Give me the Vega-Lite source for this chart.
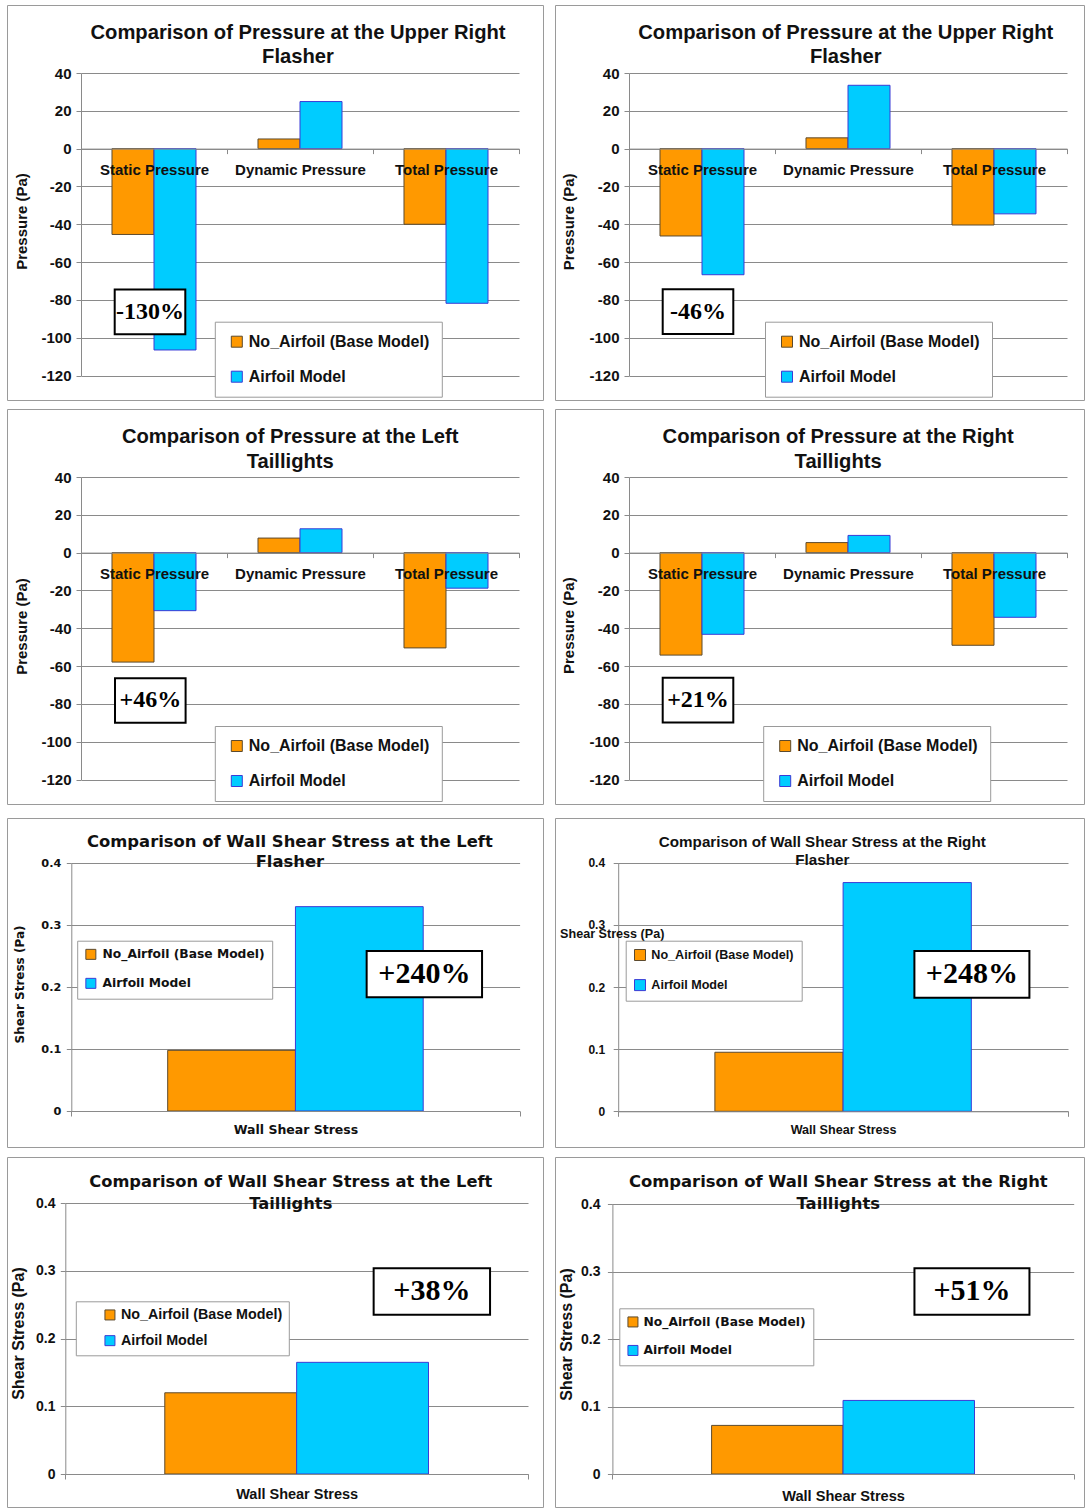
{
  "$schema": "https://vega.github.io/schema/vega-lite/v6.json",
  "padding": {"left": 6, "top": 4, "right": 0, "bottom": 0},
  "background": "white",
  "config": {
    "view": {"stroke": "#9a9a9a", "strokeWidth": 1, "fill": "white"},
    "axis": {"domainColor": "#8a8a8a", "tickColor": "#8a8a8a", "gridColor": "#8a8a8a", "labelColor": "#111111", "titleColor": "#111111", "labelFont": "Liberation Sans", "titleFont": "Liberation Sans", "labelFontWeight": "bold", "titleFontWeight": "bold", "tickSize": 5, "labelOverlap": false, "labelLimit": 400},
    "axisX": {"grid": false, "domain": true, "ticks": true, "labelAngle": 0, "tickBand": "extent"},
    "axisY": {"grid": true, "domain": true, "ticks": true},
    "legend": {"title": null, "orient": "none", "direction": "vertical", "symbolType": "square", "fillColor": "white", "strokeColor": "#9a9a9a", "symbolStrokeWidth": 1, "labelColor": "#111111", "labelFontWeight": "bold", "labelLimit": 400},
    "title": {"color": "#111111", "fontWeight": "bold", "anchor": "middle", "frame": "group", "baseline": "bottom"}
  },
  "datasets": {
    "upperFlasherA": [
      {"quantity": "Static Pressure", "model": "No_Airfoil (Base Model)", "pressure": -45.4},
      {"quantity": "Static Pressure", "model": "Airfoil Model", "pressure": -106.5},
      {"quantity": "Dynamic Pressure", "model": "No_Airfoil (Base Model)", "pressure": 5.1},
      {"quantity": "Dynamic Pressure", "model": "Airfoil Model", "pressure": 24.9},
      {"quantity": "Total Pressure", "model": "No_Airfoil (Base Model)", "pressure": -40.0},
      {"quantity": "Total Pressure", "model": "Airfoil Model", "pressure": -81.8}
    ],
    "upperFlasherB": [
      {"quantity": "Static Pressure", "model": "No_Airfoil (Base Model)", "pressure": -46.2},
      {"quantity": "Static Pressure", "model": "Airfoil Model", "pressure": -66.7},
      {"quantity": "Dynamic Pressure", "model": "No_Airfoil (Base Model)", "pressure": 5.7},
      {"quantity": "Dynamic Pressure", "model": "Airfoil Model", "pressure": 33.5},
      {"quantity": "Total Pressure", "model": "No_Airfoil (Base Model)", "pressure": -40.4},
      {"quantity": "Total Pressure", "model": "Airfoil Model", "pressure": -34.5}
    ],
    "leftTaillights": [
      {"quantity": "Static Pressure", "model": "No_Airfoil (Base Model)", "pressure": -57.9},
      {"quantity": "Static Pressure", "model": "Airfoil Model", "pressure": -30.7},
      {"quantity": "Dynamic Pressure", "model": "No_Airfoil (Base Model)", "pressure": 7.7},
      {"quantity": "Dynamic Pressure", "model": "Airfoil Model", "pressure": 12.6},
      {"quantity": "Total Pressure", "model": "No_Airfoil (Base Model)", "pressure": -50.4},
      {"quantity": "Total Pressure", "model": "Airfoil Model", "pressure": -18.8}
    ],
    "rightTaillights": [
      {"quantity": "Static Pressure", "model": "No_Airfoil (Base Model)", "pressure": -54.2},
      {"quantity": "Static Pressure", "model": "Airfoil Model", "pressure": -43.2},
      {"quantity": "Dynamic Pressure", "model": "No_Airfoil (Base Model)", "pressure": 5.3},
      {"quantity": "Dynamic Pressure", "model": "Airfoil Model", "pressure": 9.1},
      {"quantity": "Total Pressure", "model": "No_Airfoil (Base Model)", "pressure": -49.0},
      {"quantity": "Total Pressure", "model": "Airfoil Model", "pressure": -34.2}
    ],
    "shearLeftFlasher": [
      {"quantity": "Wall Shear Stress", "model": "No_Airfoil (Base Model)", "stress": 0.098},
      {"quantity": "Wall Shear Stress", "model": "Airfoil Model", "stress": 0.330}
    ],
    "shearRightFlasher": [
      {"quantity": "Wall Shear Stress", "model": "No_Airfoil (Base Model)", "stress": 0.095},
      {"quantity": "Wall Shear Stress", "model": "Airfoil Model", "stress": 0.368}
    ],
    "shearLeftTaillights": [
      {"quantity": "Wall Shear Stress", "model": "No_Airfoil (Base Model)", "stress": 0.120},
      {"quantity": "Wall Shear Stress", "model": "Airfoil Model", "stress": 0.165}
    ],
    "shearRightTaillights": [
      {"quantity": "Wall Shear Stress", "model": "No_Airfoil (Base Model)", "stress": 0.072},
      {"quantity": "Wall Shear Stress", "model": "Airfoil Model", "stress": 0.109}
    ]
  },
  "spacing": 12,
  "resolve": {"scale": {"xOffset": "independent", "fill": "independent", "stroke": "independent"}, "legend": {"fill": "independent", "stroke": "independent"}},
  "vconcat": [
    {
      "spacing": 7,
      "resolve": {"scale": {"xOffset": "independent", "fill": "independent", "stroke": "independent"}, "legend": {"fill": "independent", "stroke": "independent"}},
      "vconcat": [
        {
          "spacing": 10,
          "resolve": {"scale": {"xOffset": "independent", "fill": "independent", "stroke": "independent"}, "legend": {"fill": "independent", "stroke": "independent"}},
          "hconcat": [
            {
              "width": 536, "height": 395,
              "title": {"text": ["Comparison of Pressure at the Upper Right", "Flasher"], "font": "Liberation Sans", "fontSize": 20.2, "lineHeight": 24.4, "offset": -62.5, "dx": 23},
              "layer": [
                {
                  "data": {"name": "upperFlasherA"},
                  "mark": {"type": "bar", "strokeWidth": 1},
                  "encoding": {
                    "x": {"field": "quantity", "type": "nominal", "scale": {"domain": ["Static Pressure", "Dynamic Pressure", "Total Pressure"], "range": [74, 512], "paddingInner": 0, "paddingOuter": 0}, "axis": {"title": null, "offset": -251.4, "labelFontSize": 15, "labelPadding": 9, "zindex": 1}},
                    "xOffset": {"field": "model", "type": "nominal", "scale": {"domain": ["No_Airfoil (Base Model)", "Airfoil Model"], "range": [0, 146], "paddingInner": 0, "paddingOuter": 0.738}},
                    "y": {"field": "pressure", "type": "quantitative", "stack": null, "scale": {"domain": [-120, 40], "range": [370.5, 68], "nice": false, "zero": false}, "axis": {"values": [-120, -100, -80, -60, -40, -20, 0, 20, 40], "labelExpr": "datum.value + ''", "offset": -74, "labelFontSize": 15, "labelPadding": 5, "title": "Pressure (Pa)", "titleFontSize": 15, "titleAngle": -90, "titleAlign": "center", "titleBaseline": "middle", "titleX": -60, "titleY": 216}},
                    "fill": {"field": "model", "type": "nominal", "scale": {"domain": ["No_Airfoil (Base Model)", "Airfoil Model"], "range": ["#FF9900", "#00CCFF"]}, "legend": {"legendX": 207.8, "legendY": 316.7, "padding": 12, "rowPadding": 19, "labelFont": "Liberation Sans", "labelFontSize": 16, "symbolSize": 121, "symbolOffset": 2, "labelOffset": 4}},
                    "stroke": {"field": "model", "type": "nominal", "scale": {"domain": ["No_Airfoil (Base Model)", "Airfoil Model"], "range": ["#5c4a2e", "#3b3bd6"]}}
                  }
                },
                {
                  "data": {"values": [{"quantity": "Static Pressure", "note": "-130%"}]},
                  "encoding": {"x": {"field": "quantity", "type": "nominal"}, "y": {"datum": -86.3, "type": "quantitative"}},
                  "layer": [
                    {"mark": {"type": "point", "shape": "M-1,-0.633H1V0.633H-1Z", "size": 4984, "filled": true, "fill": "white", "stroke": "black", "strokeWidth": 2, "opacity": 1, "xOffset": -4}},
                    {"mark": {"type": "text", "font": "Liberation Serif", "fontWeight": "bold", "fontSize": 24, "color": "black", "align": "center", "baseline": "middle", "xOffset": -4}, "encoding": {"text": {"field": "note"}}}
                  ]
                }
              ]
            },
            {
              "width": 529, "height": 395,
              "title": {"text": ["Comparison of Pressure at the Upper Right", "Flasher"], "font": "Liberation Sans", "fontSize": 20.2, "lineHeight": 24.4, "offset": -62.5, "dx": 26.3},
              "layer": [
                {
                  "data": {"name": "upperFlasherB"},
                  "mark": {"type": "bar", "strokeWidth": 1},
                  "encoding": {
                    "x": {"field": "quantity", "type": "nominal", "scale": {"domain": ["Static Pressure", "Dynamic Pressure", "Total Pressure"], "range": [74, 512], "paddingInner": 0, "paddingOuter": 0}, "axis": {"title": null, "offset": -251.4, "labelFontSize": 15, "labelPadding": 9, "zindex": 1}},
                    "xOffset": {"field": "model", "type": "nominal", "scale": {"domain": ["No_Airfoil (Base Model)", "Airfoil Model"], "range": [0, 146], "paddingInner": 0, "paddingOuter": 0.738}},
                    "y": {"field": "pressure", "type": "quantitative", "stack": null, "scale": {"domain": [-120, 40], "range": [370.5, 68], "nice": false, "zero": false}, "axis": {"values": [-120, -100, -80, -60, -40, -20, 0, 20, 40], "labelExpr": "datum.value + ''", "offset": -74, "labelFontSize": 15, "labelPadding": 5, "title": "Pressure (Pa)", "titleFontSize": 15, "titleAngle": -90, "titleAlign": "center", "titleBaseline": "middle", "titleX": -60.2, "titleY": 216.3}},
                    "fill": {"field": "model", "type": "nominal", "scale": {"domain": ["No_Airfoil (Base Model)", "Airfoil Model"], "range": ["#FF9900", "#00CCFF"]}, "legend": {"legendX": 210, "legendY": 316.7, "padding": 12, "rowPadding": 19, "labelFont": "Liberation Sans", "labelFontSize": 16, "symbolSize": 121, "symbolOffset": 2, "labelOffset": 4}},
                    "stroke": {"field": "model", "type": "nominal", "scale": {"domain": ["No_Airfoil (Base Model)", "Airfoil Model"], "range": ["#5c4a2e", "#3b3bd6"]}}
                  }
                },
                {
                  "data": {"values": [{"quantity": "Static Pressure", "note": "-46%"}]},
                  "encoding": {"x": {"field": "quantity", "type": "nominal"}, "y": {"datum": -86.2, "type": "quantitative"}},
                  "layer": [
                    {"mark": {"type": "point", "shape": "M-1,-0.633H1V0.633H-1Z", "size": 4984, "filled": true, "fill": "white", "stroke": "black", "strokeWidth": 2, "opacity": 1, "xOffset": -4}},
                    {"mark": {"type": "text", "font": "Liberation Serif", "fontWeight": "bold", "fontSize": 24, "color": "black", "align": "center", "baseline": "middle", "xOffset": -4}, "encoding": {"text": {"field": "note"}}}
                  ]
                }
              ]
            }
          ]
        },
        {
          "spacing": 10,
          "resolve": {"scale": {"xOffset": "independent", "fill": "independent", "stroke": "independent"}, "legend": {"fill": "independent", "stroke": "independent"}},
          "hconcat": [
            {
              "width": 536, "height": 395,
              "title": {"text": ["Comparison of Pressure at the Left", "Taillights"], "font": "Liberation Sans", "fontSize": 20.2, "lineHeight": 24.4, "offset": -62.8, "dx": 15.2},
              "layer": [
                {
                  "data": {"name": "leftTaillights"},
                  "mark": {"type": "bar", "strokeWidth": 1},
                  "encoding": {
                    "x": {"field": "quantity", "type": "nominal", "scale": {"domain": ["Static Pressure", "Dynamic Pressure", "Total Pressure"], "range": [74, 512], "paddingInner": 0, "paddingOuter": 0}, "axis": {"title": null, "offset": -251.4, "labelFontSize": 15, "labelPadding": 9, "zindex": 1}},
                    "xOffset": {"field": "model", "type": "nominal", "scale": {"domain": ["No_Airfoil (Base Model)", "Airfoil Model"], "range": [0, 146], "paddingInner": 0, "paddingOuter": 0.738}},
                    "y": {"field": "pressure", "type": "quantitative", "stack": null, "scale": {"domain": [-120, 40], "range": [370.5, 68], "nice": false, "zero": false}, "axis": {"values": [-120, -100, -80, -60, -40, -20, 0, 20, 40], "labelExpr": "datum.value + ''", "offset": -74, "labelFontSize": 15, "labelPadding": 5, "title": "Pressure (Pa)", "titleFontSize": 15, "titleAngle": -90, "titleAlign": "center", "titleBaseline": "middle", "titleX": -60, "titleY": 217}},
                    "fill": {"field": "model", "type": "nominal", "scale": {"domain": ["No_Airfoil (Base Model)", "Airfoil Model"], "range": ["#FF9900", "#00CCFF"]}, "legend": {"legendX": 207.8, "legendY": 317, "padding": 12, "rowPadding": 19, "labelFont": "Liberation Sans", "labelFontSize": 16, "symbolSize": 121, "symbolOffset": 2, "labelOffset": 4}},
                    "stroke": {"field": "model", "type": "nominal", "scale": {"domain": ["No_Airfoil (Base Model)", "Airfoil Model"], "range": ["#5c4a2e", "#3b3bd6"]}}
                  }
                },
                {
                  "data": {"values": [{"quantity": "Static Pressure", "note": "+46%"}]},
                  "encoding": {"x": {"field": "quantity", "type": "nominal"}, "y": {"datum": -78.2, "type": "quantitative"}},
                  "layer": [
                    {"mark": {"type": "point", "shape": "M-1,-0.633H1V0.633H-1Z", "size": 4984, "filled": true, "fill": "white", "stroke": "black", "strokeWidth": 2, "opacity": 1, "xOffset": -3.7}},
                    {"mark": {"type": "text", "font": "Liberation Serif", "fontWeight": "bold", "fontSize": 24, "color": "black", "align": "center", "baseline": "middle", "xOffset": -3.7}, "encoding": {"text": {"field": "note"}}}
                  ]
                }
              ]
            },
            {
              "width": 529, "height": 395,
              "title": {"text": ["Comparison of Pressure at the Right", "Taillights"], "font": "Liberation Sans", "fontSize": 20.2, "lineHeight": 24.4, "offset": -62.8, "dx": 18.6},
              "layer": [
                {
                  "data": {"name": "rightTaillights"},
                  "mark": {"type": "bar", "strokeWidth": 1},
                  "encoding": {
                    "x": {"field": "quantity", "type": "nominal", "scale": {"domain": ["Static Pressure", "Dynamic Pressure", "Total Pressure"], "range": [74, 512], "paddingInner": 0, "paddingOuter": 0}, "axis": {"title": null, "offset": -251.4, "labelFontSize": 15, "labelPadding": 9, "zindex": 1}},
                    "xOffset": {"field": "model", "type": "nominal", "scale": {"domain": ["No_Airfoil (Base Model)", "Airfoil Model"], "range": [0, 146], "paddingInner": 0, "paddingOuter": 0.738}},
                    "y": {"field": "pressure", "type": "quantitative", "stack": null, "scale": {"domain": [-120, 40], "range": [370.5, 68], "nice": false, "zero": false}, "axis": {"values": [-120, -100, -80, -60, -40, -20, 0, 20, 40], "labelExpr": "datum.value + ''", "offset": -74, "labelFontSize": 15, "labelPadding": 5, "title": "Pressure (Pa)", "titleFontSize": 15, "titleAngle": -90, "titleAlign": "center", "titleBaseline": "middle", "titleX": -60.2, "titleY": 216.2}},
                    "fill": {"field": "model", "type": "nominal", "scale": {"domain": ["No_Airfoil (Base Model)", "Airfoil Model"], "range": ["#FF9900", "#00CCFF"]}, "legend": {"legendX": 208.2, "legendY": 317, "padding": 12, "rowPadding": 19, "labelFont": "Liberation Sans", "labelFontSize": 16, "symbolSize": 121, "symbolOffset": 2, "labelOffset": 4}},
                    "stroke": {"field": "model", "type": "nominal", "scale": {"domain": ["No_Airfoil (Base Model)", "Airfoil Model"], "range": ["#5c4a2e", "#3b3bd6"]}}
                  }
                },
                {
                  "data": {"values": [{"quantity": "Static Pressure", "note": "+21%"}]},
                  "encoding": {"x": {"field": "quantity", "type": "nominal"}, "y": {"datum": -78, "type": "quantitative"}},
                  "layer": [
                    {"mark": {"type": "point", "shape": "M-1,-0.633H1V0.633H-1Z", "size": 4984, "filled": true, "fill": "white", "stroke": "black", "strokeWidth": 2, "opacity": 1, "xOffset": -4}},
                    {"mark": {"type": "text", "font": "Liberation Serif", "fontWeight": "bold", "fontSize": 24, "color": "black", "align": "center", "baseline": "middle", "xOffset": -4}, "encoding": {"text": {"field": "note"}}}
                  ]
                }
              ]
            }
          ]
        }
      ]
    },
    {
      "spacing": 8,
      "resolve": {"scale": {"xOffset": "independent", "fill": "independent", "stroke": "independent"}, "legend": {"fill": "independent", "stroke": "independent"}},
      "vconcat": [
        {
          "spacing": 10,
          "resolve": {"scale": {"xOffset": "independent", "fill": "independent", "stroke": "independent"}, "legend": {"fill": "independent", "stroke": "independent"}},
          "hconcat": [
            {
              "width": 536, "height": 329,
              "title": {"text": ["Comparison of Wall Shear Stress at the Left", "Flasher"], "font": "DejaVu Sans", "fontSize": 16.4, "lineHeight": 20.7, "offset": -52.8, "dx": 14.9},
              "layer": [
                {
                  "data": {"name": "shearLeftFlasher"},
                  "mark": {"type": "bar", "strokeWidth": 1},
                  "encoding": {
                    "x": {"field": "quantity", "type": "nominal", "scale": {"domain": ["Wall Shear Stress"], "range": [64.3, 512.6], "paddingInner": 0, "paddingOuter": 0}, "axis": {"title": null, "offset": -36, "labelFont": "DejaVu Sans", "labelFontSize": 12.5, "labelPadding": 7, "zindex": 1}},
                    "xOffset": {"field": "model", "type": "nominal", "scale": {"domain": ["No_Airfoil (Base Model)", "Airfoil Model"], "range": [0, 448.3], "paddingInner": 0, "paddingOuter": 0.7546}},
                    "y": {"field": "stress", "type": "quantitative", "stack": null, "scale": {"domain": [0, 0.4], "range": [293, 45.3], "nice": false}, "axis": {"values": [0, 0.1, 0.2, 0.3, 0.4], "format": ".1~f", "offset": -64.3, "labelFont": "DejaVu Sans", "labelFontSize": 11.3, "labelPadding": 5.5, "title": "Shear Stress (Pa)", "titleFont": "DejaVu Sans", "titleFontSize": 12, "titleAngle": -90, "titleAlign": "center", "titleBaseline": "middle", "titleX": -51.5, "titleY": 166}},
                    "fill": {"field": "model", "type": "nominal", "scale": {"domain": ["No_Airfoil (Base Model)", "Airfoil Model"], "range": ["#FF9900", "#00CCFF"]}, "legend": {"legendX": 70.2, "legendY": 122.7, "padding": 7.5, "rowPadding": 14, "labelFont": "DejaVu Sans", "labelFontSize": 12.3, "symbolSize": 100, "symbolOffset": 0, "labelOffset": 5.5}},
                    "stroke": {"field": "model", "type": "nominal", "scale": {"domain": ["No_Airfoil (Base Model)", "Airfoil Model"], "range": ["#5c4a2e", "#3b3bd6"]}}
                  }
                },
                {
                  "data": {"values": [{"quantity": "Wall Shear Stress", "note": "+240%"}]},
                  "encoding": {"x": {"field": "quantity", "type": "nominal"}, "y": {"datum": 0.221, "type": "quantitative"}},
                  "layer": [
                    {"mark": {"type": "point", "shape": "M-1,-0.401H1V0.401H-1Z", "size": 13317, "filled": true, "fill": "white", "stroke": "black", "strokeWidth": 2, "opacity": 1, "xOffset": 128.9}},
                    {"mark": {"type": "text", "font": "Liberation Serif", "fontWeight": "bold", "fontSize": 30, "color": "black", "align": "center", "baseline": "middle", "xOffset": 128.9}, "encoding": {"text": {"field": "note"}}}
                  ]
                }
              ]
            },
            {
              "width": 529, "height": 329,
              "title": {"text": ["Comparison of Wall Shear Stress at the Right", "Flasher"], "font": "Liberation Sans", "fontSize": 15.2, "lineHeight": 18.3, "offset": -50.7, "dx": 2.8},
              "layer": [
                {
                  "data": {"name": "shearRightFlasher"},
                  "mark": {"type": "bar", "strokeWidth": 1},
                  "encoding": {
                    "x": {"field": "quantity", "type": "nominal", "scale": {"domain": ["Wall Shear Stress"], "range": [63.2, 513], "paddingInner": 0, "paddingOuter": 0}, "axis": {"title": null, "offset": -35.7, "labelFontSize": 12.6, "labelPadding": 7.6, "zindex": 1}},
                    "xOffset": {"field": "model", "type": "nominal", "scale": {"domain": ["No_Airfoil (Base Model)", "Airfoil Model"], "range": [0, 449.8], "paddingInner": 0, "paddingOuter": 0.754}},
                    "y": {"field": "stress", "type": "quantitative", "stack": null, "scale": {"domain": [0, 0.4], "range": [293.3, 44.7], "nice": false}, "axis": {"values": [0, 0.1, 0.2, 0.3, 0.4], "format": ".1~f", "offset": -63.2, "labelFontSize": 12, "labelPadding": 8.6, "title": "Shear Stress (Pa)", "titleFontSize": 12.6, "titleAngle": 0, "titleAlign": "left", "titleBaseline": "middle", "titleX": -58.6, "titleY": 115.3}},
                    "fill": {"field": "model", "type": "nominal", "scale": {"domain": ["No_Airfoil (Base Model)", "Airfoil Model"], "range": ["#FF9900", "#00CCFF"]}, "legend": {"legendX": 70.7, "legendY": 122.7, "padding": 8, "rowPadding": 14.1, "labelFont": "Liberation Sans", "labelFontSize": 12.6, "symbolSize": 121, "symbolOffset": 0, "labelOffset": 5}},
                    "stroke": {"field": "model", "type": "nominal", "scale": {"domain": ["No_Airfoil (Base Model)", "Airfoil Model"], "range": ["#5c4a2e", "#3b3bd6"]}}
                  }
                },
                {
                  "data": {"values": [{"quantity": "Wall Shear Stress", "note": "+248%"}]},
                  "encoding": {"x": {"field": "quantity", "type": "nominal"}, "y": {"datum": 0.2204, "type": "quantitative"}},
                  "layer": [
                    {"mark": {"type": "point", "shape": "M-1,-0.406H1V0.406H-1Z", "size": 13225, "filled": true, "fill": "white", "stroke": "black", "strokeWidth": 2, "opacity": 1, "xOffset": 128.8}},
                    {"mark": {"type": "text", "font": "Liberation Serif", "fontWeight": "bold", "fontSize": 30, "color": "black", "align": "center", "baseline": "middle", "xOffset": 128.8}, "encoding": {"text": {"field": "note"}}}
                  ]
                }
              ]
            }
          ]
        },
        {
          "spacing": 10,
          "resolve": {"scale": {"xOffset": "independent", "fill": "independent", "stroke": "independent"}, "legend": {"fill": "independent", "stroke": "independent"}},
          "hconcat": [
            {
              "width": 536, "height": 350,
              "title": {"text": ["Comparison of Wall Shear Stress at the Left", "Taillights"], "font": "DejaVu Sans", "fontSize": 16.3, "lineHeight": 21.7, "offset": -55.1, "dx": 15.8},
              "layer": [
                {
                  "data": {"name": "shearLeftTaillights"},
                  "mark": {"type": "bar", "strokeWidth": 1},
                  "encoding": {
                    "x": {"field": "quantity", "type": "nominal", "scale": {"domain": ["Wall Shear Stress"], "range": [58.3, 521], "paddingInner": 0, "paddingOuter": 0}, "axis": {"title": null, "offset": -33, "labelFontSize": 14.5, "labelPadding": 8.8, "zindex": 1}},
                    "xOffset": {"field": "model", "type": "nominal", "scale": {"domain": ["No_Airfoil (Base Model)", "Airfoil Model"], "range": [0, 462.7], "paddingInner": 0, "paddingOuter": 0.7546}},
                    "y": {"field": "stress", "type": "quantitative", "stack": null, "scale": {"domain": [0, 0.4], "range": [317, 46.3], "nice": false}, "axis": {"values": [0, 0.1, 0.2, 0.3, 0.4], "format": ".1~f", "offset": -58.3, "labelFontSize": 14, "labelPadding": 5.3, "title": "Shear Stress (Pa)", "titleFontSize": 16, "titleAngle": -90, "titleAlign": "center", "titleBaseline": "middle", "titleX": -47, "titleY": 176}},
                    "fill": {"field": "model", "type": "nominal", "scale": {"domain": ["No_Airfoil (Base Model)", "Airfoil Model"], "range": ["#FF9900", "#00CCFF"]}, "legend": {"legendX": 68.8, "legendY": 144.3, "padding": 6.5, "rowPadding": 10.7, "labelFont": "Liberation Sans", "labelFontSize": 14.3, "symbolSize": 100, "symbolOffset": 20.5, "labelOffset": 3.8}},
                    "stroke": {"field": "model", "type": "nominal", "scale": {"domain": ["No_Airfoil (Base Model)", "Airfoil Model"], "range": ["#5c4a2e", "#3b3bd6"]}}
                  }
                },
                {
                  "data": {"values": [{"quantity": "Wall Shear Stress", "note": "+38%"}]},
                  "encoding": {"x": {"field": "quantity", "type": "nominal"}, "y": {"datum": 0.2697, "type": "quantitative"}},
                  "layer": [
                    {"mark": {"type": "point", "shape": "M-1,-0.399H1V0.399H-1Z", "size": 13549, "filled": true, "fill": "white", "stroke": "black", "strokeWidth": 2, "opacity": 1, "xOffset": 135.2}},
                    {"mark": {"type": "text", "font": "Liberation Serif", "fontWeight": "bold", "fontSize": 30, "color": "black", "align": "center", "baseline": "middle", "xOffset": 135.2}, "encoding": {"text": {"field": "note"}}}
                  ]
                }
              ]
            },
            {
              "width": 529, "height": 350,
              "title": {"text": ["Comparison of Wall Shear Stress at the Right", "Taillights"], "font": "DejaVu Sans", "fontSize": 16.4, "lineHeight": 21.7, "offset": -55.1, "dx": 18.8},
              "layer": [
                {
                  "data": {"name": "shearRightTaillights"},
                  "mark": {"type": "bar", "strokeWidth": 1},
                  "encoding": {
                    "x": {"field": "quantity", "type": "nominal", "scale": {"domain": ["Wall Shear Stress"], "range": [57.4, 518.7], "paddingInner": 0, "paddingOuter": 0}, "axis": {"title": null, "offset": -33, "labelFontSize": 14.6, "labelPadding": 9.4, "zindex": 1}},
                    "xOffset": {"field": "model", "type": "nominal", "scale": {"domain": ["No_Airfoil (Base Model)", "Airfoil Model"], "range": [0, 461.3], "paddingInner": 0, "paddingOuter": 0.7546}},
                    "y": {"field": "stress", "type": "quantitative", "stack": null, "scale": {"domain": [0, 0.4], "range": [317, 47], "nice": false}, "axis": {"values": [0, 0.1, 0.2, 0.3, 0.4], "format": ".1~f", "offset": -57.4, "labelFontSize": 14, "labelPadding": 7.4, "title": "Shear Stress (Pa)", "titleFontSize": 16, "titleAngle": -90, "titleAlign": "center", "titleBaseline": "middle", "titleX": -45.7, "titleY": 177}},
                    "fill": {"field": "model", "type": "nominal", "scale": {"domain": ["No_Airfoil (Base Model)", "Airfoil Model"], "range": ["#FF9900", "#00CCFF"]}, "legend": {"legendX": 64.3, "legendY": 151.3, "padding": 7.5, "rowPadding": 13.5, "labelFont": "DejaVu Sans", "labelFontSize": 12.3, "symbolSize": 100, "symbolOffset": 0, "labelOffset": 4.4}},
                    "stroke": {"field": "model", "type": "nominal", "scale": {"domain": ["No_Airfoil (Base Model)", "Airfoil Model"], "range": ["#5c4a2e", "#3b3bd6"]}}
                  }
                },
                {
                  "data": {"values": [{"quantity": "Wall Shear Stress", "note": "+51%"}]},
                  "encoding": {"x": {"field": "quantity", "type": "nominal"}, "y": {"datum": 0.2704, "type": "quantitative"}},
                  "layer": [
                    {"mark": {"type": "point", "shape": "M-1,-0.403H1V0.403H-1Z", "size": 13225, "filled": true, "fill": "white", "stroke": "black", "strokeWidth": 2, "opacity": 1, "xOffset": 128.9}},
                    {"mark": {"type": "text", "font": "Liberation Serif", "fontWeight": "bold", "fontSize": 30, "color": "black", "align": "center", "baseline": "middle", "xOffset": 128.9}, "encoding": {"text": {"field": "note"}}}
                  ]
                }
              ]
            }
          ]
        }
      ]
    }
  ]
}
